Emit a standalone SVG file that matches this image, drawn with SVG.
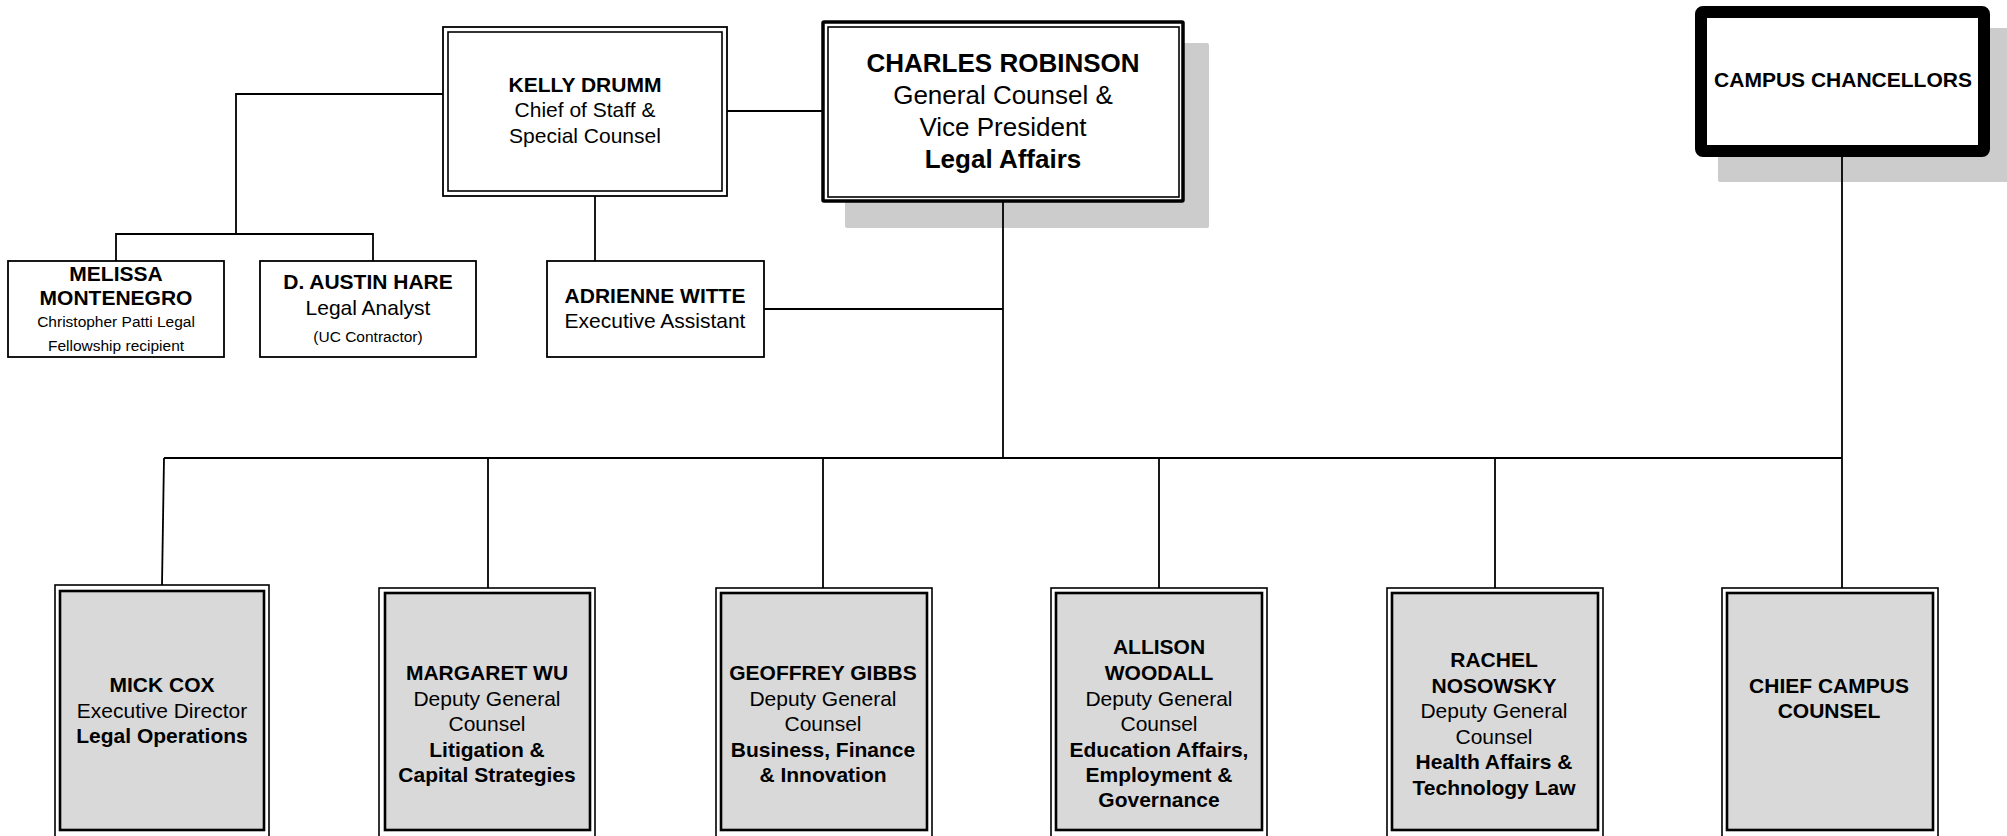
<svg xmlns="http://www.w3.org/2000/svg" width="2007" height="836" viewBox="0 0 2007 836">
<style>
text{font-family:"Liberation Sans",Arial,sans-serif;fill:#000;text-anchor:middle;font-size:21px}
.b{font-weight:bold}
.s{font-size:15.5px}
.big{font-size:26px}
.ln{fill:none;stroke:#000;stroke-width:1.8}
.box{fill:#fff;stroke:#000;stroke-width:1.8}
.in{fill:none;stroke:#000;stroke-width:1.6}
.go{fill:#fff;stroke:#000;stroke-width:1.6}
.gi{fill:#d9d9d9;stroke:#000;stroke-width:2.6}
.sh{fill:#cccccc}
</style>
<rect width="2007" height="836" fill="#fff"/>
<g id="shadows">
<rect class="sh" x="845" y="43" width="364" height="185" rx="2"/>
<rect class="sh" x="1718" y="28" width="295" height="154" rx="2"/>
</g>
<g id="connectors">
<path class="ln" d="M727,111 H823"/>
<path class="ln" d="M443,94 H236 V234"/>
<path class="ln" d="M116,261 V234 H373 V261"/>
<path class="ln" d="M595,196 V261"/>
<path class="ln" d="M764,309 H1003"/>
<path class="ln" d="M1003,202 V458"/>
<path class="ln" d="M164,458 H1842"/>
<path class="ln" d="M1842,157 V588"/>
<path class="ln" d="M164,458 L162,585"/>
<path class="ln" d="M488,458 V588"/>
<path class="ln" d="M823,458 V588"/>
<path class="ln" d="M1159,458 V588"/>
<path class="ln" d="M1495,458 V588"/>
</g>
<g id="kelly">
<rect class="box" x="443" y="27" width="284" height="169"/>
<rect class="in" x="448" y="32" width="274" height="159"/>
<text class="b" x="585" y="92">KELLY DRUMM</text>
<text x="585" y="117">Chief of Staff &amp;</text>
<text x="585" y="143">Special Counsel</text>
</g>
<g id="charles">
<rect fill="#fff" stroke="#000" stroke-width="3.5" x="823" y="22" width="360" height="179" rx="1"/>
<rect class="in" x="828" y="27" width="351" height="170" stroke-width="2"/>
<text class="b big" x="1003" y="72">CHARLES ROBINSON</text>
<text class="big" x="1003" y="104">General Counsel &amp;</text>
<text class="big" x="1003" y="136">Vice President</text>
<text class="b big" x="1003" y="168">Legal Affairs</text>
</g>
<g id="chancellors">
<rect fill="#fff" stroke="#000" stroke-width="12" x="1701" y="12" width="283" height="139" rx="2"/>
<text class="b" x="1843" y="87">CAMPUS CHANCELLORS</text>
</g>
<g id="melissa">
<rect class="box" x="8" y="261" width="216" height="96"/>
<text class="b" x="116" y="281">MELISSA</text>
<text class="b" x="116" y="305">MONTENEGRO</text>
<text class="s" x="116" y="327">Christopher Patti Legal</text>
<text class="s" x="116" y="351">Fellowship recipient</text>
</g>
<g id="hare">
<rect class="box" x="260" y="261" width="216" height="96"/>
<text class="b" x="368" y="289">D. AUSTIN HARE</text>
<text x="368" y="315">Legal Analyst</text>
<text class="s" x="368" y="342">(UC Contractor)</text>
</g>
<g id="adrienne">
<rect class="box" x="547" y="261" width="217" height="96"/>
<text class="b" x="655" y="303">ADRIENNE WITTE</text>
<text x="655" y="328">Executive Assistant</text>
</g>
<g id="mick">
<rect class="go" x="55" y="585" width="214" height="260"/>
<rect class="gi" x="60" y="591" width="204" height="239"/>
<text class="b" x="162" y="692">MICK COX</text>
<text x="162" y="718">Executive Director</text>
<text class="b" x="162" y="743">Legal Operations</text>
</g>
<g id="margaret">
<rect class="go" x="379" y="588" width="216" height="260"/>
<rect class="gi" x="385" y="593" width="205" height="237"/>
<text class="b" x="487" y="680">MARGARET WU</text>
<text x="487" y="706">Deputy General</text>
<text x="487" y="731">Counsel</text>
<text class="b" x="487" y="757">Litigation &amp;</text>
<text class="b" x="487" y="782">Capital Strategies</text>
</g>
<g id="geoffrey">
<rect class="go" x="716" y="588" width="216" height="260"/>
<rect class="gi" x="721" y="593" width="206" height="237"/>
<text class="b" x="823" y="680">GEOFFREY GIBBS</text>
<text x="823" y="706">Deputy General</text>
<text x="823" y="731">Counsel</text>
<text class="b" x="823" y="757">Business, Finance</text>
<text class="b" x="823" y="782">&amp; Innovation</text>
</g>
<g id="allison">
<rect class="go" x="1051" y="588" width="216" height="260"/>
<rect class="gi" x="1056" y="593" width="206" height="237"/>
<text class="b" x="1159" y="654">ALLISON</text>
<text class="b" x="1159" y="680">WOODALL</text>
<text x="1159" y="706">Deputy General</text>
<text x="1159" y="731">Counsel</text>
<text class="b" x="1159" y="757">Education Affairs,</text>
<text class="b" x="1159" y="782">Employment &amp;</text>
<text class="b" x="1159" y="807">Governance</text>
</g>
<g id="rachel">
<rect class="go" x="1387" y="588" width="216" height="260"/>
<rect class="gi" x="1392" y="593" width="206" height="237"/>
<text class="b" x="1494" y="667">RACHEL</text>
<text class="b" x="1494" y="693">NOSOWSKY</text>
<text x="1494" y="718">Deputy General</text>
<text x="1494" y="744">Counsel</text>
<text class="b" x="1494" y="769">Health Affairs &amp;</text>
<text class="b" x="1494" y="795">Technology Law</text>
</g>
<g id="chief">
<rect class="go" x="1722" y="588" width="216" height="260"/>
<rect class="gi" x="1727" y="593" width="206" height="237"/>
<text class="b" x="1829" y="693">CHIEF CAMPUS</text>
<text class="b" x="1829" y="718">COUNSEL</text>
</g>
</svg>
